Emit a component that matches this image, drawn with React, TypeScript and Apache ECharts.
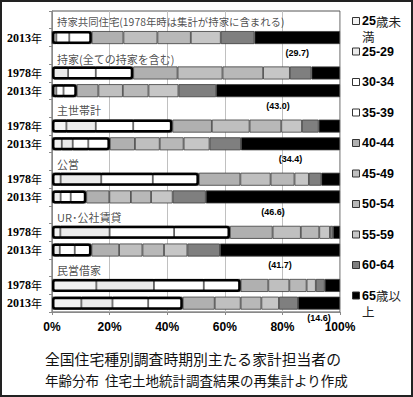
import React, { useEffect, useRef } from 'react';
import * as echarts from 'echarts';

// Age groups (legend / stack order)
const ageGroups = ['25歳未満', '25-29', '30-34', '35-39', '40-44', '45-49', '50-54', '55-59', '60-64', '65歳以上'];
const legendLabels = [['25歳未', '満'], ['25-29'], ['30-34'], ['35-39'], ['40-44'], ['45-49'], ['50-54'], ['55-59'], ['60-64'], ['65歳以', '上']];
const ageColors = ['#f2f2f2', '#ebebeb', '#ffffff', '#ffffff', '#b0b0b0', '#bfbfbf', '#b8b8b8', '#c6c6c6', '#7f7f7f', '#000000'];

// Housing types and survey years
const housingTypes = ['持家共同住宅(1978年時は集計が持家に含まれる)', '持家(全ての持家を含む)', '主世帯計', '公営', 'UR･公社賃貸', '民営借家'];
const surveyYears = [['2013'], ['1978', '2013'], ['1978', '2013'], ['1978', '2013'], ['1978', '2013'], ['1978', '2013']];

// Shares (%) by age group, one array per bar
const condoOwned2013 = [0.2, 1.3, 4.5, 7.8, 11.0, 11.8, 11.6, 10.4, 11.7, 29.7];
const owned1978 = [0.5, 5.1, 9.6, 13.0, 15.4, 15.6, 14.1, 9.3, 7.5, 9.9];
const owned2013 = [0.2, 1.3, 2.5, 4.6, 7.5, 8.5, 8.9, 10.4, 13.1, 43.0];
const allHouseholds1978 = [5.0, 10.2, 13.0, 13.6, 13.7, 13.1, 11.0, 7.2, 5.8, 7.4];
const allHouseholds2013 = [3.4, 3.8, 5.4, 7.5, 8.7, 8.6, 8.3, 9.0, 10.9, 34.4];
const publicRental1978 = [3.0, 14.1, 17.9, 16.0, 14.4, 10.5, 8.3, 5.0, 4.3, 6.5];
const publicRental2013 = [0.4, 2.6, 3.5, 5.4, 8.0, 7.5, 7.0, 7.5, 11.5, 46.6];
const urRental1978 = [2.9, 17.1, 22.4, 19.4, 14.8, 9.8, 6.4, 3.7, 1.1, 2.4];
const urRental2013 = [0.3, 2.4, 5.2, 5.8, 9.6, 8.1, 7.5, 8.1, 11.3, 41.7];
const privateRental1978 = [15.4, 20.0, 17.3, 12.8, 9.6, 7.3, 6.0, 3.2, 3.1, 5.3];
const privateRental2013 = [10.2, 10.8, 12.4, 12.0, 11.1, 9.0, 7.2, 6.1, 6.6, 14.6];

const valuesByType = [
  [condoOwned2013],
  [owned1978, owned2013],
  [allHouseholds1978, allHouseholds2013],
  [publicRental1978, publicRental2013],
  [urRental1978, urRental2013],
  [privateRental1978, privateRental2013],
];

const captionLines = ['全国住宅種別調査時期別主たる家計担当者の', '年齢分布  住宅土地統計調査結果の再集計より作成'];

type Row = { key: string; kind: 'title' | 'bar'; text?: string; year?: string; values?: number[] };

function buildRows(): Row[] {
  const rows: Row[] = [];
  housingTypes.forEach((t, ti) => {
    rows.push({ key: 'title-' + ti, kind: 'title', text: t });
    surveyYears[ti].forEach((y, yi) => {
      rows.push({ key: ti + '-' + y, kind: 'bar', year: y, values: valuesByType[ti][yi] });
    });
  });
  return rows;
}

function richDigits(s: string): string {
  return s
    .split(/([0-9\-]+)/)
    .filter((p) => p.length > 0)
    .map((p) => (/^[0-9\-]+$/.test(p) ? '{b|' + p + '}' : '{n|' + p + '}'))
    .join('');
}

export default function App() {
  const ref = useRef<HTMLDivElement>(null);
  useEffect(() => {
    if (!ref.current) return;
    const chart = echarts.init(ref.current, undefined, { renderer: 'svg' });
    const rows = buildRows();
    const keyIndex: Record<string, number> = {};
    rows.forEach((r, i) => (keyIndex[r.key] = i));

    const ageSeries = ageGroups.map((name, a) => ({
      type: 'bar',
      name,
      stack: 'age',
      barWidth: 13,
      barGap: '-100%',
      silent: true,
      emphasis: { disabled: true },
      itemStyle: { color: ageColors[a], borderColor: '#3c3c3c', borderWidth: 0.8 },
      label: {
        show: false,
        position: 'bottom',
        distance: 4,
        formatter: (p: any) => '(' + Number(p.value).toFixed(1) + ')',
        fontFamily: 'Liberation Sans',
        fontWeight: 'bold',
        fontSize: 9,
        color: '#000',
      },
      data: rows.map((r) => {
        if (r.kind !== 'bar') return '-';
        const v = r.values![a];
        if (a === ageGroups.length - 1 && r.year === '2013') return { value: v, label: { show: true } };
        return v;
      }),
    }));

    const boxSeries = {
      type: 'bar',
      name: 'under40',
      barWidth: 13,
      barGap: '-100%',
      silent: true,
      z: 3,
      emphasis: { disabled: true },
      itemStyle: { color: 'rgba(0,0,0,0)', borderColor: '#000', borderWidth: 2.5, borderRadius: 2 },
      data: rows.map((r) => (r.kind === 'bar' ? Math.round(r.values!.slice(0, 4).reduce((s, v) => s + v, 0) * 10) / 10 : '-')),
    };

    const titleSeries = {
      type: 'scatter',
      name: 'titles',
      symbolSize: 0,
      silent: true,
      z: 4,
      label: {
        show: true,
        position: 'right',
        distance: 5,
        formatter: '{b}',
        fontFamily: 'Noto Sans CJK JP',
        fontSize: 11,
        color: '#222',
      },
      data: rows
        .map((r, i) =>
          r.kind === 'title'
            ? { name: r.text, value: [0, i], label: { offset: [0, i === 2 ? 4 : 2], fontSize: i === 0 ? 10.4 : 11 } }
            : null
        )
        .filter((d) => d !== null),
    };

    const graphics: any[] = [
      { type: 'rect', shape: { x: 1, y: 1, width: 411, height: 395 }, style: { fill: 'none', stroke: '#222', lineWidth: 2 }, silent: true },
    ];
    const richLegend = {
      b: { fontFamily: 'Liberation Sans', fontWeight: 'bold', fontSize: 12.5, fill: '#000', lineHeight: 13 },
      n: { fontFamily: 'Noto Sans CJK JP', fontSize: 12.5, fill: '#222', lineHeight: 13 },
    };
    legendLabels.forEach((lines, i) => {
      const y = 21 + 30.5 * i;
      graphics.push({
        type: 'rect',
        shape: { x: 352.5, y: y - 3.5, width: 7, height: 7 },
        style: { fill: ageColors[i], stroke: '#333', lineWidth: 1 },
        silent: true,
      });
      lines.forEach((ln, li) => {
        graphics.push({
          type: 'text',
          x: 362,
          y: y + li * 15.5,
          style: { text: richDigits(ln), rich: richLegend, verticalAlign: 'middle', align: 'left', fill: '#000' },
          silent: true,
        });
      });
    });
    graphics.push({
      type: 'text',
      x: 45,
      y: 358,
      style: { text: captionLines[0], fontFamily: 'Noto Sans CJK JP', fontSize: 14.8, fill: '#111', verticalAlign: 'middle' },
      silent: true,
    });
    graphics.push({
      type: 'text',
      x: 45,
      y: 380,
      style: { text: captionLines[1], fontFamily: 'Noto Sans CJK JP', fontSize: 13.5, fill: '#111', verticalAlign: 'middle' },
      silent: true,
    });

    chart.setOption({
      animation: false,
      backgroundColor: '#fff',
      grid: { left: 52, right: 73, top: 11, bottom: 85, show: true, borderColor: '#555', borderWidth: 1, containLabel: false },
      xAxis: {
        type: 'value',
        min: 0,
        max: 100,
        interval: 20,
        axisLine: { show: true, lineStyle: { color: '#888' } },
        axisTick: { show: true, length: 3, lineStyle: { color: '#888' } },
        splitLine: { show: true, lineStyle: { color: '#c0c0c0', width: 1 } },
        axisLabel: {
          formatter: '{value}%',
          fontFamily: 'Liberation Sans',
          fontWeight: 'bold',
          fontSize: 12,
          color: '#000',
          margin: 9,
        },
      },
      yAxis: {
        type: 'category',
        inverse: true,
        data: rows.map((r) => r.key),
        axisLine: { show: true, lineStyle: { color: '#888' } },
        axisTick: { show: true, length: 3, lineStyle: { color: '#888' } },
        splitLine: { show: false },
        axisLabel: {
          margin: 10,
          interval: 0,
          formatter: (v: string) => {
            const r = rows[keyIndex[v]];
            return r && r.kind === 'bar' ? '{b|' + r.year + '}{n|年}' : '';
          },
          rich: {
            b: { fontFamily: 'Liberation Serif', fontWeight: 'bold', fontSize: 12, color: '#000' },
            n: { fontFamily: 'Noto Sans CJK JP', fontSize: 11, color: '#000' },
          },
        },
      },
      series: [...ageSeries, boxSeries, titleSeries],
      graphic: graphics,
    });
    return () => chart.dispose();
  }, []);
  return <div ref={ref} style={{ position: 'fixed', left: 0, top: 0, width: 413, height: 397, background: '#fff' }} />;
}
